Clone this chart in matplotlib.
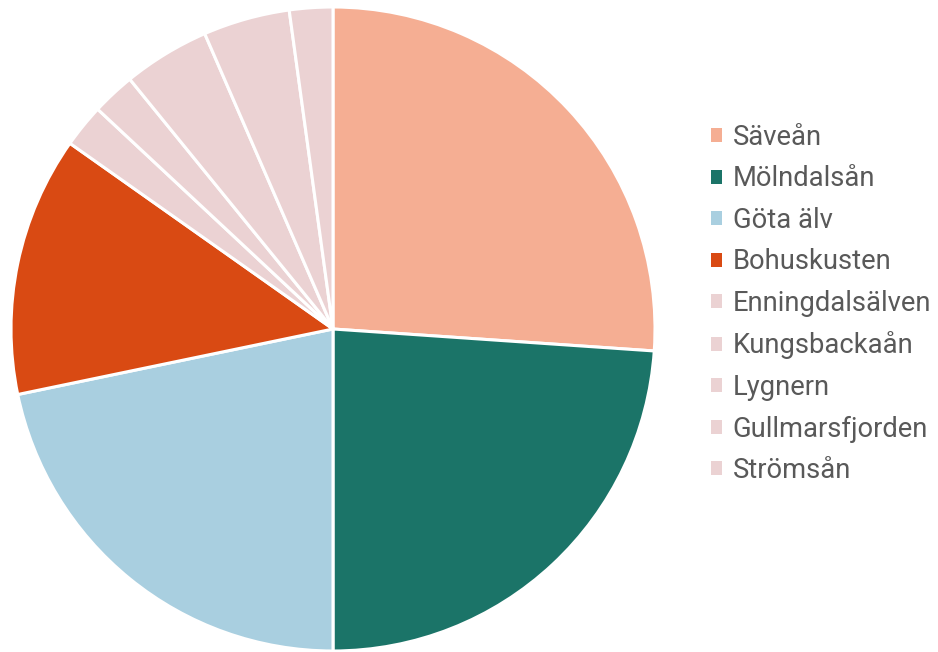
import matplotlib
matplotlib.use("Agg")
import matplotlib.pyplot as plt
from matplotlib.patches import Patch

categories = ["Säveån", "Mölndalsån", "Göta älv", "Bohuskusten", "Enningdalsälven",
              "Kungsbackaån", "Lygnern", "Gullmarsfjorden", "Strömsån"]
values = [12, 11, 10, 6, 1, 1, 2, 2, 1]
colors = ["#F5AE93", "#1B7468", "#A9CFE0", "#D94A13", "#EBD2D3",
          "#EBD2D3", "#EBD2D3", "#EBD2D3", "#EBD2D3"]

plt.rcParams['font.family'] = ['Roboto', 'DejaVu Sans']

fig = plt.figure(figsize=(9.38, 6.52), dpi=100)
ax = fig.add_axes([11/938, 1/652, 644/938, 644/652])
wedges, _ = ax.pie(values, colors=colors, startangle=90, counterclock=False,
                   wedgeprops=dict(edgecolor="white", linewidth=2.2))
ax.set_xlim(-1, 1)
ax.set_ylim(-1, 1)
ax.set_aspect("equal")
ax.axis("off")

fs = 19.7
handles = [Patch(facecolor=c, edgecolor="none") for c in colors]
leg = fig.legend(handles, categories, loc="center left",
                 bbox_to_anchor=(711/938, 1 - 304/652),
                 frameon=False, fontsize=fs, handlelength=0.42, handleheight=0.42,
                 handletextpad=0.37, labelspacing=0.53, borderpad=0, borderaxespad=0)
for t in leg.get_texts():
    t.set_color("#595959")

fig.savefig("out.png", dpi=100)
